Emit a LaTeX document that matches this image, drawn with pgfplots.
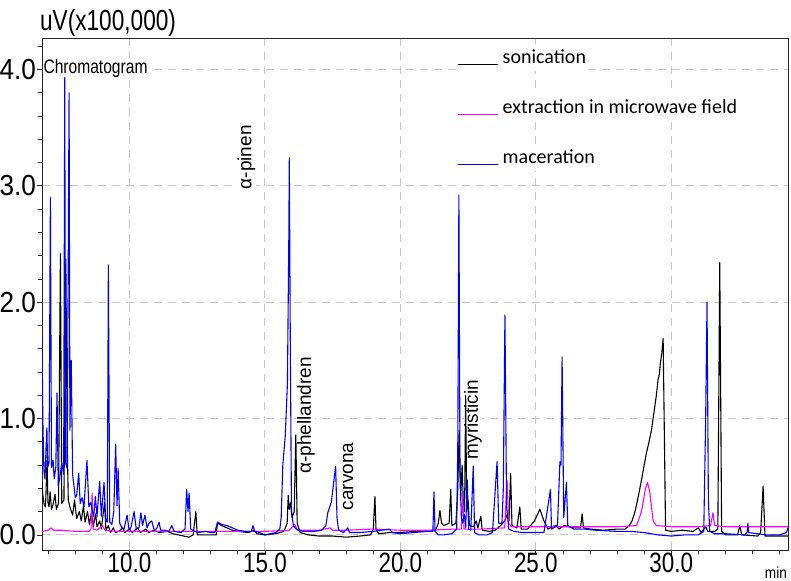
\documentclass[border=0pt]{standalone}
\usepackage{pgfplots}
\pgfplotsset{compat=1.18}
\usepackage{fontspec}
\setmainfont{Liberation Sans}
\newfontfamily\carlito{Carlito}
\definecolor{mag}{RGB}{255,0,255}
\definecolor{blu}{RGB}{0,0,255}
\begin{document}
\begin{tikzpicture}
\begin{axis}[
  name=ax,
  scale only axis, width=746pt, height=512pt,
  xmin=6.77, xmax=34.31, ymin=-0.13, ymax=4.27,
  axis line style={black!85, line width=0.9pt},
  xtick={10,15,20,25,30}, ytick={0,1,2,3,4},
  minor xtick={7,8,9,11,12,13,14,16,17,18,19,21,22,23,24,26,27,28,29,31,32,33,34},
  minor ytick={0.2,0.4,0.6,0.8,1.2,1.4,1.6,1.8,2.2,2.4,2.6,2.8,3.2,3.4,3.6,3.8,4.2},
  tick pos=left, tick align=outside,
  major tick length=5pt, minor tick length=4pt,
  every tick/.style={black!85, line width=0.7pt},
  grid=major,
  major grid style={gray!45, dash pattern=on 8pt off 6pt, line width=0.9pt},
  /pgf/number format/fixed, /pgf/number format/fixed zerofill,
  /pgf/number format/precision=1, /pgf/number format/assume math mode=true,
  xticklabel style={font=\fontsize{28}{28}\selectfont, xscale=0.8, inner sep=0pt, yshift=2pt},
  yticklabel style={font=\fontsize{29}{29}\selectfont, xscale=0.9, inner sep=0pt, xshift=-1pt},
]
\node[anchor=base west, fill=white, inner sep=1pt, font=\fontsize{19.5}{19.5}\selectfont, xscale=0.8] at (axis cs:6.79,3.964) {Chromatogram};
\node[rotate=90, fill=white, inner sep=0.5pt, font=\fontsize{19}{19}\selectfont] at (axis cs:14.32,3.245) {α-pinen};
\node[rotate=90, fill=white, inner sep=0.5pt, font=\fontsize{19}{19}\selectfont] at (axis cs:16.51,1.026) {α-phellandren};
\node[rotate=90, fill=white, inner sep=0.5pt, font=\fontsize{19}{19}\selectfont] at (axis cs:18.07,0.503) {carvona};
\node[rotate=90, fill=white, inner sep=0.5pt, font=\fontsize{19}{19}\selectfont] at (axis cs:22.68,0.99) {myristicin};
\node[anchor=base west, inner xsep=0pt, inner ysep=6pt, fill=white, font=\carlito\fontsize{20}{20}\selectfont] at (axis cs:22.12,4.05) {\textcolor{black}{\rule[-1.5pt]{40pt}{1pt}}\hspace{4.7pt}sonication\hspace{3pt}};
\node[anchor=base west, inner xsep=0pt, inner ysep=6pt, fill=white, font=\carlito\fontsize{20}{20}\selectfont] at (axis cs:22.12,3.62) {\textcolor{mag}{\rule[-1.5pt]{40pt}{1pt}}\hspace{4.7pt}extraction in microwave field\hspace{3pt}};
\node[anchor=base west, inner xsep=0pt, inner ysep=6pt, fill=white, font=\carlito\fontsize{20}{20}\selectfont] at (axis cs:22.12,3.19) {\textcolor{blu}{\rule[-1.5pt]{40pt}{1pt}}\hspace{4.7pt}maceration\hspace{3pt}};

% sonication
\addplot[black, mark=none, line width=1.1pt, line join=round] coordinates {
(6.77,0.45)(6.80,0.34)(6.85,0.26)(6.90,0.24)(6.956,0.64)(6.99,0.28)(7.03,0.24)(7.07,0.37)(7.12,0.22)(7.18,0.26)(7.25,0.35)(7.30,0.22)(7.38,0.27)(7.45,2.42)(7.50,0.27)(7.58,0.30)(7.65,2.37)(7.70,0.80)(7.74,0.30)(7.80,0.24)(7.90,0.17)(7.97,0.30)(8.05,0.14)(8.15,0.20)(8.22,0.12)(8.30,0.25)(8.36,0.11)(8.45,0.20)(8.52,0.09)(8.60,0.20)(8.66,0.07)(8.75,0.18)(8.80,0.07)(8.90,0.12)(8.96,0.05)(9.08,0.28)(9.13,0.04)(9.22,0.08)(9.30,0.02)(9.40,0.06)(9.48,0.02)(9.60,0.03)(9.75,0.06)(9.82,0.02)(10.00,0.05)(10.10,0.02)(10.30,0.06)(10.40,0.02)(10.60,0.05)(10.70,0.02)(10.90,0.04)(11.10,0.02)(11.40,0.03)(11.60,0.01)(11.80,0.0)(12.00,-0.01)(12.20,-0.02)(12.35,0.0)(12.45,0.20)(12.50,0.0)(12.70,0.0)(13.00,0.0)(13.20,0.0)(13.25,0.10)(13.40,0.08)(13.60,0.06)(13.80,0.04)(14.00,0.03)(14.40,0.02)(14.60,0.04)(14.70,0.01)(15.00,0.0)(15.40,0.01)(15.70,0.03)(15.82,0.10)(15.86,0.34)(15.90,0.22)(15.95,0.28)(16.00,0.15)(16.08,0.20)(16.14,0.86)(16.19,0.10)(16.30,0.02)(16.60,0.0)(17.00,-0.01)(17.50,-0.01)(18.00,-0.02)(18.50,-0.01)(18.90,0.0)(19.00,0.05)(19.06,0.33)(19.10,0.05)(19.20,0.01)(19.60,0.02)(20.00,0.02)(20.50,0.03)(21.00,0.03)(21.30,0.04)(21.40,0.10)(21.46,0.21)(21.52,0.10)(21.60,0.08)(21.80,0.10)(21.86,0.39)(21.90,0.08)(22.05,0.10)(22.12,0.40)(22.17,0.90)(22.22,0.30)(22.28,0.60)(22.32,0.30)(22.37,0.20)(22.41,1.20)(22.45,0.20)(22.50,0.30)(22.55,0.08)(22.70,0.07)(22.80,0.12)(22.86,0.06)(22.97,0.16)(23.02,0.04)(23.30,0.03)(23.50,0.04)(23.70,0.08)(23.85,0.12)(23.95,0.18)(24.01,0.12)(24.07,0.53)(24.12,0.08)(24.30,0.06)(24.41,0.24)(24.46,0.05)(24.70,0.05)(24.95,0.12)(25.15,0.22)(25.30,0.12)(25.45,0.05)(25.60,0.07)(25.75,0.08)(25.85,0.05)(26.05,0.08)(26.40,0.06)(26.65,0.06)(26.71,0.18)(26.76,0.06)(27.00,0.05)(27.50,0.04)(28.00,0.05)(28.30,0.05)(28.45,0.08)(28.55,0.12)(28.65,0.19)(28.72,0.26)(28.80,0.35)(28.90,0.47)(29.00,0.60)(29.08,0.70)(29.18,0.80)(29.27,0.90)(29.33,1.00)(29.39,1.10)(29.45,1.20)(29.51,1.33)(29.56,1.38)(29.60,1.48)(29.65,1.56)(29.70,1.69)(29.79,0.04)(30.00,0.03)(30.40,0.04)(30.80,0.03)(31.00,0.06)(31.10,0.02)(31.27,0.07)(31.35,0.03)(31.60,0.03)(31.72,0.05)(31.79,2.34)(31.86,0.03)(32.00,0.0)(32.45,0.0)(32.53,0.08)(32.60,0.0)(33.20,-0.01)(33.30,0.02)(33.39,0.42)(33.46,-0.01)(34.00,-0.01)(34.31,-0.01)
};
% extraction in microwave field
\addplot[mag, mark=none, line width=1.1pt, line join=round] coordinates {
(6.77,0.03)(7.00,0.04)(7.10,0.06)(7.20,0.04)(7.50,0.04)(8.00,0.03)(8.50,0.03)(8.58,0.05)(8.62,0.36)(8.66,0.05)(8.80,0.04)(9.00,0.08)(9.10,0.04)(9.50,0.03)(10.0,0.03)(11.0,0.03)(12.0,0.03)(13.0,0.03)(14.0,0.03)(15.0,0.03)(15.9,0.04)(16.10,0.09)(16.20,0.04)(17.0,0.04)(17.4,0.06)(17.5,0.04)(18.0,0.04)(19.0,0.05)(20.0,0.04)(21.0,0.04)(22.0,0.05)(22.25,0.05)(22.30,0.35)(22.35,0.05)(23.0,0.05)(23.85,0.06)(23.94,0.47)(24.00,0.10)(24.10,0.07)(25.0,0.07)(26.0,0.07)(27.0,0.07)(28.0,0.07)(28.72,0.08)(28.90,0.20)(29.05,0.40)(29.12,0.45)(29.20,0.38)(29.33,0.12)(29.45,0.08)(30.0,0.07)(31.0,0.07)(31.45,0.08)(31.54,0.19)(31.60,0.08)(32.0,0.07)(33.0,0.07)(34.31,0.07)
};
% maceration
\addplot[blu, mark=none, line width=1.1pt, line join=round] coordinates {
(6.77,1.77)(6.80,1.0)(6.84,0.55)(6.88,0.48)(6.92,0.75)(6.95,0.92)(6.98,0.58)(7.03,0.62)(7.08,2.90)(7.12,0.58)(7.18,0.64)(7.22,0.48)(7.28,0.58)(7.325,1.22)(7.37,0.42)(7.42,0.48)(7.50,0.62)(7.57,0.52)(7.61,3.93)(7.64,0.62)(7.70,0.57)(7.77,3.80)(7.80,0.90)(7.85,1.50)(7.90,0.52)(7.95,0.42)(8.00,0.32)(8.05,0.34)(8.125,0.53)(8.18,0.27)(8.25,0.32)(8.32,0.24)(8.43,0.64)(8.50,0.24)(8.57,0.28)(8.62,0.22)(8.68,0.16)(8.74,0.33)(8.80,0.16)(8.90,0.46)(8.96,0.16)(9.06,0.45)(9.12,0.13)(9.18,0.11)(9.22,2.32)(9.27,0.11)(9.35,0.09)(9.42,0.20)(9.49,0.78)(9.54,0.25)(9.58,0.57)(9.64,0.10)(9.72,0.06)(9.80,0.05)(9.91,0.17)(9.98,0.05)(10.05,0.06)(10.17,0.20)(10.25,0.05)(10.35,0.06)(10.42,0.19)(10.48,0.08)(10.57,0.17)(10.65,0.06)(10.72,0.10)(10.82,0.12)(10.90,0.05)(11.00,0.05)(11.09,0.11)(11.15,0.04)(11.30,0.04)(11.45,0.03)(11.56,0.08)(11.65,0.03)(11.90,0.02)(12.05,0.05)(12.11,0.39)(12.16,0.20)(12.20,0.36)(12.26,0.05)(12.40,0.03)(12.55,0.02)(12.80,0.03)(13.00,0.02)(13.15,0.02)(13.25,0.11)(13.40,0.09)(13.60,0.08)(13.80,0.06)(14.00,0.04)(14.30,0.03)(14.50,0.03)(14.56,0.08)(14.62,0.03)(14.80,0.02)(15.00,0.0)(15.20,0.01)(15.40,0.02)(15.55,0.05)(15.60,0.15)(15.66,0.60)(15.75,0.85)(15.83,1.30)(15.88,2.50)(15.90,3.24)(15.94,1.50)(15.98,0.20)(16.05,0.08)(16.15,0.05)(16.40,0.03)(16.80,0.03)(17.10,0.04)(17.25,0.08)(17.32,0.19)(17.45,0.28)(17.61,0.59)(17.66,0.15)(17.72,0.04)(17.90,0.02)(18.06,0.06)(18.12,0.02)(18.50,0.02)(19.00,0.03)(19.60,0.05)(19.70,0.02)(20.00,0.01)(20.50,0.02)(21.00,0.03)(21.20,0.03)(21.24,0.37)(21.28,0.03)(21.40,0.0)(21.60,0.0)(21.90,0.01)(22.08,0.05)(22.12,0.8)(22.16,2.92)(22.20,0.6)(22.25,0.15)(22.30,0.10)(22.36,0.18)(22.41,0.06)(22.47,0.47)(22.52,0.05)(22.60,0.04)(22.69,0.59)(22.74,0.02)(22.90,0.0)(23.20,0.0)(23.40,0.02)(23.57,0.63)(23.63,0.10)(23.75,0.10)(23.80,0.40)(23.86,1.89)(23.92,0.25)(24.00,0.05)(24.20,0.03)(24.50,0.02)(25.00,0.02)(25.30,0.02)(25.54,0.39)(25.58,0.05)(25.80,0.08)(25.89,0.63)(25.93,0.60)(25.97,1.53)(26.03,0.15)(26.13,0.45)(26.18,0.08)(26.40,0.05)(26.80,0.05)(27.20,0.04)(28.00,0.03)(28.50,0.03)(29.00,0.02)(29.50,0.0)(30.00,-0.01)(30.50,0.0)(31.00,0.0)(31.20,0.03)(31.27,1.0)(31.32,2.00)(31.37,0.3)(31.42,0.03)(31.60,0.01)(32.00,0.01)(32.70,0.0)(32.80,0.02)(32.83,0.10)(32.86,0.02)(33.50,0.0)(34.00,0.0)(34.25,0.02)(34.31,0.06)
};
\end{axis}
\node[anchor=base west, inner sep=0pt, font=\fontsize{29}{29}\selectfont, xscale=0.78] at ([xshift=-2pt,yshift=7pt]ax.north west) {uV(x100,000)};
\node[anchor=base east, inner sep=0pt, font=\fontsize{16}{16}\selectfont, xscale=0.85] at ([xshift=-1pt,yshift=-28pt]ax.south east) {min};
\pgfresetboundingbox
\path[use as bounding box] ([shift={(-42pt,-30pt)}]ax.south west) rectangle ([shift={(3pt,38pt)}]ax.north east);
\end{tikzpicture}
\end{document}
